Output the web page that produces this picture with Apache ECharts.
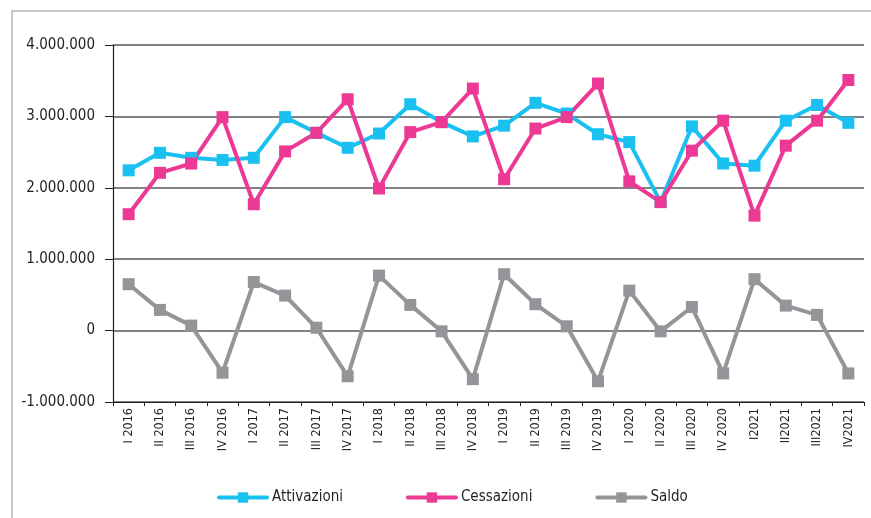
<!DOCTYPE html>
<html>
<head>
<meta charset="utf-8">
<script src="https://cdn.jsdelivr.net/npm/echarts@6/dist/echarts.min.js"></script>
<style>
  html, body { margin: 0; padding: 0; background: #fff; }
  #chart { width: 871px; height: 518px; }
</style>
</head>
<body>
<div id="chart"></div>
<script>
// trimestri
const quarters = [
  'I 2016', 'II 2016', 'III 2016', 'IV 2016',
  'I 2017', 'II 2017', 'III 2017', 'IV 2017',
  'I 2018', 'II 2018', 'III 2018', 'IV 2018',
  'I 2019', 'II 2019', 'III 2019', 'IV 2019',
  'I 2020', 'II 2020', 'III 2020', 'IV 2020',
  'I2021', 'II2021', 'III2021', 'IV2021'
]
const attivazioni = [
  2245000, 2490000, 2420000, 2390000, 2420000, 2990000, 2770000, 2560000,
  2760000, 3170000, 2920000, 2720000, 2870000, 3190000, 3040000, 2750000,
  2640000, 1800000, 2860000, 2340000, 2310000, 2940000, 3160000, 2910000
]
const cessazioni = [
  1630000, 2210000, 2340000, 2990000, 1770000, 2510000, 2770000, 3240000,
  1990000, 2780000, 2920000, 3390000, 2120000, 2830000, 2990000, 3460000,
  2090000, 1800000, 2520000, 2940000, 1610000, 2590000, 2940000, 3510000
]
const saldo = [
  650000, 290000, 70000, -590000, 680000, 490000, 40000, -640000,
  770000, 360000, -10000, -680000, 790000, 370000, 60000, -710000,
  560000, -10000, 330000, -600000, 720000, 350000, 220000, -600000
]
const yTicks = [-1000000, 0, 1000000, 2000000, 3000000, 4000000]

const font = "'DejaVu Sans Condensed', 'DejaVu Sans', sans-serif"
const textColor = '#231f20'

function fmt (v) {
  if (v === 0) return '0'
  const s = Math.abs(v).toString().replace(/\B(?=(\d{3})+(?!\d))/g, '.')
  return (v < 0 ? '-' : '') + s
}

function lineSeries (name, data, color) {
  return {
    name: name,
    type: 'line',
    data: data,
    symbol: 'rect',
    symbolSize: 12,
    lineStyle: { color: color, width: 4 },
    itemStyle: { color: color },
    animation: false
  }
}

let myChart = echarts.init(document.getElementById('chart'))
let option = {
  backgroundColor: '#fff',
  textStyle: { fontFamily: font, color: textColor },
  graphic: [
    {
      type: 'polyline',
      shape: { points: [[12, 518], [12, 11], [871, 11]] },
      style: { stroke: '#b5b5b5', lineWidth: 1.5, fill: null },
      silent: true
    }
  ],
  grid: {
    left: 113,
    right: 7,
    top: 45,
    bottom: 116
  },
  legend: {
    bottom: 8,
    left: 212,
    itemWidth: 48,
    itemHeight: 13,
    itemGap: 63,
    lineStyle: { width: 4, cap: 'round' },
    textStyle: { fontFamily: font, fontSize: 15, color: textColor },
    data: ['Attivazioni', 'Cessazioni', 'Saldo']
  },
  xAxis: {
    type: 'category',
    data: quarters,
    boundaryGap: true,
    axisLine: { onZero: false, lineStyle: { color: '#231f20', width: 1.2 } },
    axisTick: { show: true, length: 4, inside: false, lineStyle: { color: '#231f20' } },
    axisLabel: {
      rotate: 90,
      interval: 0,
      margin: 6,
      fontFamily: font,
      fontSize: 12.5,
      color: textColor
    },
    splitLine: { show: false }
  },
  yAxis: {
    type: 'value',
    min: yTicks[0],
    max: yTicks[yTicks.length - 1],
    interval: 1000000,
    axisLine: { show: true, lineStyle: { color: '#231f20', width: 1.2 } },
    axisTick: { show: true, length: 8, lineStyle: { color: '#231f20' } },
    axisLabel: {
      margin: 18,
      fontFamily: font,
      fontSize: 15,
      color: textColor,
      formatter: fmt
    },
    splitLine: { show: true, lineStyle: { color: '#58595b', width: 1.5 } }
  },
  series: [
    lineSeries('Attivazioni', attivazioni, '#19c0f0'),
    lineSeries('Cessazioni', cessazioni, '#ec3a94'),
    lineSeries('Saldo', saldo, '#939598')
  ]
}
myChart.setOption(option)
</script>
</body>
</html>
